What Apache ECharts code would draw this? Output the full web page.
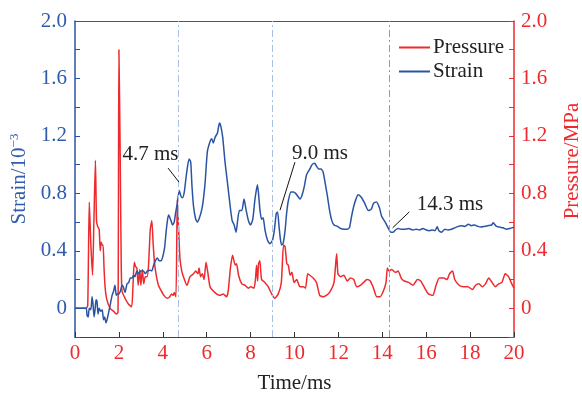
<!DOCTYPE html>
<html>
<head>
<meta charset="utf-8">
<script src="https://cdn.jsdelivr.net/npm/echarts@6/dist/echarts.min.js"></script>
<style>html,body{margin:0;padding:0;background:#fff;overflow:hidden;width:582px;height:394px}#c{width:582px;height:394px}</style>
</head>
<body>
<div id="c"></div>
<script>
const pressureT = [0,0.5,0.58,0.65,0.72,0.8,0.86,0.93,0.98,1.03,1.1,1.15,1.19,1.24,1.28,1.32,1.37,1.45,1.6,1.75,1.88,1.96,2.0,2.05,2.1,2.14,2.28,2.43,2.58,2.64,2.7,2.76,2.82,2.88,2.95,3.0,3.07,3.13,3.2,3.28,3.35,3.43,3.5,3.56,3.62,3.7,3.8,3.9,4.05,4.2,4.32,4.4,4.48,4.52,4.6,4.66,4.72,4.78,4.86,4.94,5.1,5.24,5.4,5.5,5.6,5.65,5.72,5.8,5.88,5.97,6.05,6.15,6.3,6.45,6.6,6.75,6.9,6.98,7.08,7.18,7.3,7.36,7.45,7.6,7.75,7.9,8.0,8.15,8.22,8.27,8.32,8.36,8.42,8.5,8.65,8.8,8.96,9.1,9.26,9.4,9.5,9.57,9.65,9.72,9.8,9.88,9.98,10.1,10.25,10.4,10.5,10.6,10.7,10.85,11.0,11.15,11.3,11.45,11.6,11.8,11.92,11.98,12.1,12.25,12.4,12.55,12.7,12.83,13.0,13.15,13.3,13.45,13.6,13.75,13.9,14.05,14.17,14.23,14.3,14.43,14.6,14.72,14.86,15.0,15.2,15.4,15.6,15.75,15.9,16.1,16.3,16.45,16.6,16.8,16.95,17.06,17.2,17.3,17.5,17.7,17.9,18.1,18.25,18.4,18.55,18.7,18.85,19.0,19.15,19.3,19.45,19.6,19.75,19.9,20.0];
const pressureV = [0,0,0.02,0.74,0.45,0.23,0.6,1.03,0.61,0.57,0.55,0.4,0.46,0.44,0.44,0.29,0.15,0.06,0.0,-0.02,-0.04,-0.03,1.8,1.2,0.4,0.12,0.07,0.03,0.01,0.15,0.32,0.29,0.28,0.16,0.27,0.16,0.27,0.17,0.22,0.22,0.3,0.55,0.61,0.45,0.32,0.23,0.16,0.13,0.09,0.07,0.08,0.1,0.09,0.11,0.08,0.76,0.55,0.35,0.26,0.22,0.16,0.22,0.24,0.26,0.24,0.28,0.22,0.24,0.2,0.32,0.25,0.15,0.12,0.1,0.09,0.1,0.08,0.12,0.28,0.37,0.3,0.31,0.23,0.17,0.16,0.14,0.15,0.14,0.2,0.3,0.19,0.31,0.33,0.2,0.18,0.15,0.1,0.07,0.1,0.18,0.44,0.43,0.31,0.3,0.23,0.25,0.18,0.2,0.15,0.15,0.14,0.24,0.23,0.21,0.18,0.09,0.08,0.09,0.11,0.18,0.38,0.24,0.22,0.23,0.19,0.21,0.2,0.15,0.16,0.18,0.2,0.19,0.14,0.08,0.08,0.12,0.18,0.28,0.26,0.27,0.25,0.26,0.21,0.19,0.18,0.16,0.2,0.19,0.15,0.1,0.09,0.16,0.21,0.21,0.2,0.24,0.26,0.2,0.16,0.15,0.15,0.13,0.16,0.17,0.15,0.17,0.21,0.18,0.15,0.17,0.18,0.24,0.22,0.17,0.14];

const strainT = [0,0.5,0.55,0.6,0.65,0.72,0.78,0.82,0.87,0.92,0.96,1.0,1.05,1.1,1.17,1.24,1.3,1.35,1.41,1.46,1.53,1.6,1.69,1.76,1.82,1.88,1.93,2.0,2.07,2.14,2.2,2.28,2.37,2.45,2.52,2.6,2.67,2.73,2.82,2.9,3.0,3.12,3.2,3.3,3.43,3.5,3.58,3.66,3.75,3.84,3.92,4.0,4.08,4.15,4.22,4.27,4.35,4.45,4.52,4.58,4.66,4.75,4.83,4.9,4.98,5.05,5.12,5.2,5.27,5.33,5.4,5.5,5.58,5.67,5.78,5.85,5.93,6.03,6.15,6.23,6.3,6.38,6.49,6.58,6.64,6.73,6.84,6.95,7.07,7.16,7.25,7.34,7.4,7.49,7.6,7.7,7.8,7.9,8.0,8.1,8.2,8.31,8.36,8.43,8.5,8.57,8.66,8.78,8.88,8.99,9.08,9.17,9.23,9.29,9.35,9.41,9.48,9.57,9.64,9.72,9.84,9.95,10.05,10.15,10.25,10.35,10.45,10.55,10.7,10.8,10.92,11.0,11.1,11.2,11.3,11.4,11.5,11.6,11.7,11.8,11.96,12.1,12.26,12.4,12.5,12.6,12.7,12.8,12.9,13.06,13.2,13.37,13.5,13.6,13.73,13.87,13.97,14.13,14.28,14.39,14.5,14.6,14.72,14.85,15.0,15.2,15.39,15.55,15.7,15.85,16.0,16.15,16.3,16.4,16.5,16.58,16.7,16.85,17.0,17.15,17.3,17.46,17.6,17.75,17.92,18.05,18.2,18.35,18.5,18.65,18.8,18.98,19.05,19.2,19.36,19.5,19.66,19.8,20.0];
const strainV = [0,0,-0.05,-0.06,0.0,-0.01,0.08,0.03,-0.06,0.0,0.06,0.05,-0.04,0.0,-0.02,-0.01,-0.08,-0.06,-0.1,-0.08,-0.03,0.02,0.09,0.12,0.16,0.09,0.1,0.1,0.12,0.16,0.15,0.11,0.17,0.18,0.21,0.21,0.23,0.22,0.26,0.24,0.26,0.26,0.24,0.26,0.265,0.26,0.3,0.33,0.35,0.33,0.33,0.36,0.42,0.53,0.62,0.65,0.62,0.58,0.6,0.66,0.73,0.82,0.78,0.77,0.81,0.9,0.98,1.04,1.02,0.85,0.71,0.62,0.6,0.63,0.69,0.76,0.88,1.09,1.16,1.18,1.15,1.19,1.22,1.29,1.27,1.19,1.01,0.87,0.71,0.61,0.58,0.53,0.6,0.68,0.68,0.76,0.68,0.61,0.58,0.62,0.76,0.86,0.8,0.68,0.62,0.63,0.54,0.47,0.45,0.47,0.54,0.66,0.67,0.58,0.49,0.44,0.45,0.54,0.66,0.75,0.81,0.81,0.8,0.78,0.76,0.79,0.85,0.93,0.97,1.0,1.01,0.99,0.97,0.97,0.95,0.87,0.78,0.68,0.61,0.58,0.57,0.555,0.55,0.55,0.56,0.64,0.71,0.76,0.79,0.77,0.73,0.68,0.69,0.73,0.74,0.7,0.64,0.6,0.555,0.53,0.53,0.545,0.555,0.55,0.55,0.555,0.545,0.55,0.545,0.555,0.545,0.54,0.545,0.54,0.567,0.54,0.53,0.55,0.545,0.55,0.56,0.57,0.575,0.57,0.585,0.575,0.58,0.57,0.565,0.57,0.575,0.58,0.595,0.57,0.565,0.56,0.55,0.555,0.565];

const xTicks = [0,2,4,6,8,10,12,14,16,18,20];
const markTimes = [4.7, 9.0, 14.3];
const annoLabels = ['4.7 ms', '9.0 ms', '14.3 ms'];
const annoTextAt = [[3.44, 1.07], [11.16, 1.08], [17.08, 0.725]];
const leaderFrom = [[4.24, 0.976], [10.02, 1.017], [15.23, 0.671]];
const leaderTo = [[4.74, 0.878], [9.34, 0.683], [14.47, 0.56]];

const RED = '#ee2a2e', BLUE = '#2a54a3', LBLUE = '#2f5cad';
const FONT = 'Liberation Serif';
const pair = (t, v) => t.map((x, i) => [x, v[i]]);
const yFmt = v => { const k = Math.round(v * 10); if (k < 0 || k % 4 !== 0) return ''; return k === 0 ? '0' : (k / 10).toFixed(1); };

const chart = echarts.init(document.getElementById('c'), null, {renderer: 'canvas', width: 582, height: 394});
chart.setOption({
  animation: false,
  textStyle: {fontFamily: FONT},
  grid: {left: 75, right: 68, top: 21, bottom: 57, containLabel: false, outerBoundsMode: 'none'},
  legend: {
    orient: 'vertical', left: 394, top: 32, itemWidth: 31, itemHeight: 10, itemGap: 3,
    icon: 'path://M0,4 L31,4 L31,6 L0,6 Z',
    textStyle: {fontFamily: FONT, fontSize: 21, color: '#222', padding: [0, 0, 0, -2]},
    data: ['Pressure', 'Strain']
  },
  xAxis: [{
    type: 'value', min: 0, max: 20, interval: 2, position: 'bottom',
    name: 'Time/ms', nameLocation: 'middle', nameGap: 36,
    nameTextStyle: {fontFamily: FONT, fontSize: 21, color: '#222'},
    axisLine: {onZero: false, lineStyle: {color: '#3a3f55', width: 1.2}},
    axisTick: {inside: true, length: 5, lineStyle: {color: '#333'}},
    axisLabel: {color: RED, fontFamily: FONT, fontSize: 21, margin: 6, formatter: v => xTicks.includes(v) ? String(v) : ''},
    splitLine: {show: false}
  }, {
    type: 'value', min: 0, max: 20, position: 'top',
    axisLine: {show: true, onZero: false, lineStyle: {color: '#555', width: 1.2}},
    axisTick: {show: false}, axisLabel: {show: false}, splitLine: {show: false}
  }],
  yAxis: [{
    type: 'value', min: -0.2, max: 2.0, interval: 0.2, position: 'left',
    name: '{a|Strain/10}{s|\u22123}', nameLocation: 'middle', nameGap: 41,
    nameTextStyle: {color: LBLUE, fontFamily: FONT, fontSize: 21,
      rich: {a: {color: LBLUE, fontFamily: FONT, fontSize: 21}, s: {color: LBLUE, fontFamily: FONT, fontSize: 13, padding: [0, 0, 10, 0]}}},
    axisLine: {show: true, onZero: false, lineStyle: {color: BLUE, width: 1.5}},
    axisTick: {inside: true, length: 5, lineStyle: {color: BLUE}},
    axisLabel: {color: LBLUE, fontFamily: FONT, fontSize: 21, margin: 8, formatter: yFmt},
    splitLine: {show: false}
  }, {
    type: 'value', min: -0.2, max: 2.0, interval: 0.2, position: 'right',
    name: 'Pressure/MPa', nameLocation: 'middle', nameGap: 48,
    nameTextStyle: {color: RED, fontFamily: FONT, fontSize: 21, padding: [0, 0, 0, 36]},
    axisLine: {show: true, onZero: false, lineStyle: {color: RED, width: 1.5}},
    axisTick: {inside: true, length: 5, lineStyle: {color: RED}},
    axisLabel: {color: RED, fontFamily: FONT, fontSize: 21, margin: 7, formatter: yFmt},
    splitLine: {show: false}
  }],
  series: [{
    name: 'Pressure', type: 'line', yAxisIndex: 1, data: pair(pressureT, pressureV),
    symbol: 'none', showSymbol: false, smooth: 0.2,
    lineStyle: {color: RED, width: 1.5}, itemStyle: {color: RED}, z: 2
  }, {
    name: 'Strain', type: 'line', yAxisIndex: 0, data: pair(strainT, strainV),
    symbol: 'none', showSymbol: false, smooth: 0.2,
    lineStyle: {color: BLUE, width: 1.5}, itemStyle: {color: BLUE}, z: 3,
    markLine: {
      silent: true, symbol: 'none', animation: false,
      label: {show: false},
      data: markTimes.map((t, i) => ({
        xAxis: t,
        lineStyle: {color: i === 2 ? '#7e9fcf' : '#a6c1e3', width: 1, type: [7, 3, 2, 3]}
      })).concat(leaderFrom.map((p, i) => [
        {coord: p, lineStyle: {color: '#111', width: 1, type: 'solid'}},
        {coord: leaderTo[i]}
      ]))
    },
    markPoint: {
      silent: true, symbol: 'circle', symbolSize: 0,
      data: annoLabels.map((s, i) => ({
        coord: annoTextAt[i], value: s,
        label: {show: true, formatter: s, position: 'inside', color: '#222', fontFamily: FONT, fontSize: 21}
      }))
    }
  }]
});
</script>
</body>
</html>
